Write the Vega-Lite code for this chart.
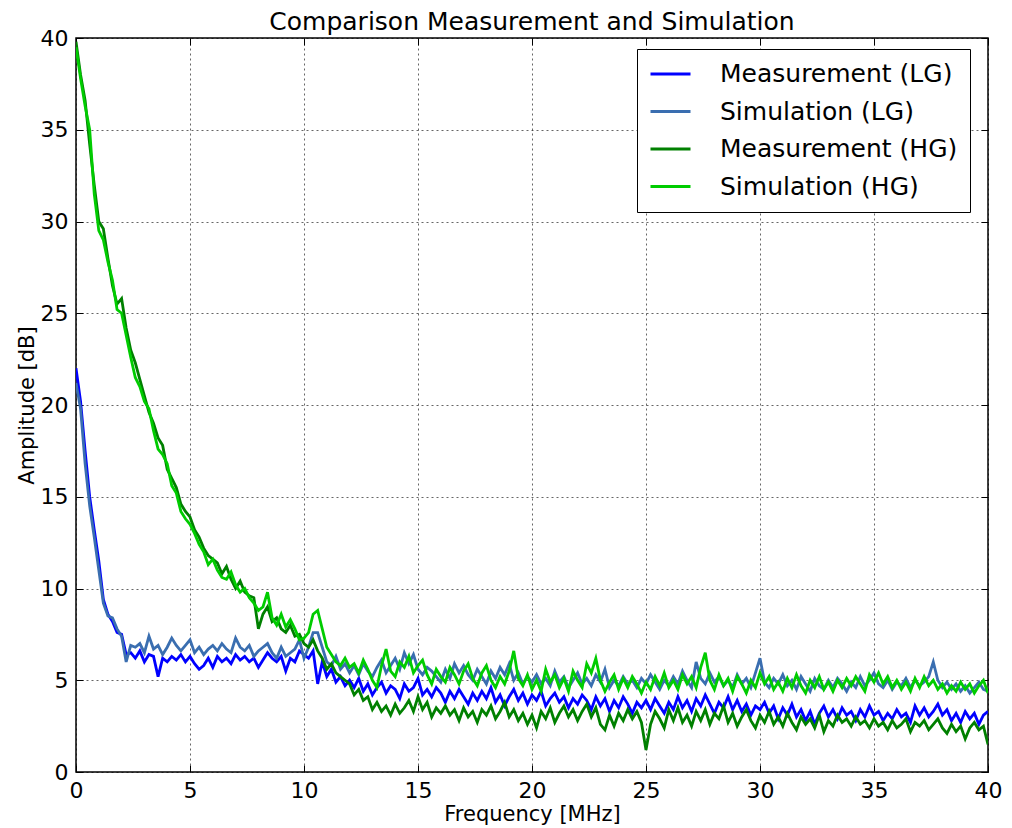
{
  "$schema": "https://vega.github.io/schema/vega-lite/v6.json",
  "width": 912,
  "height": 734,
  "autosize": {"type": "none"},
  "padding": {"left": 76, "top": 38, "right": 24, "bottom": 56},
  "background": "white",
  "config": {
    "font": "DejaVu Sans",
    "view": {"stroke": "black", "strokeWidth": 1.5},
    "axis": {
      "domain": false,
      "gridColor": "#000000",
      "gridOpacity": 0.6,
      "gridDash": [2, 3],
      "gridWidth": 1,
      "tickColor": "#000000",
      "tickSize": -7,
      "tickWidth": 1,
      "labelFlush": false,
      "labelColor": "#000000",
      "labelFont": "DejaVu Sans",
      "labelFontSize": 22,
      "titleFont": "DejaVu Sans",
      "titleFontSize": 21,
      "titleFontWeight": "normal",
      "titleColor": "#000000"
    }
  },
  "title": {"text": "Comparison Measurement and Simulation", "fontSize": 25, "fontWeight": "normal", "font": "DejaVu Sans", "color": "#000000", "offset": -8},
  "data": {"values": [
    {"f":0,"ml":22.0,"sl":21.2,"mh":39.8,"sh":39.5},
    {"f":0.2,"ml":20.2,"sl":19.8,"mh":38.0,"sh":37.8},
    {"f":0.4,"ml":17.5,"sl":16.8,"mh":36.6,"sh":36.3},
    {"f":0.6,"ml":15.0,"sl":14.5,"mh":34.2,"sh":35.0},
    {"f":0.8,"ml":13.2,"sl":12.8,"mh":32.0,"sh":31.5},
    {"f":1.0,"ml":11.5,"sl":11.0,"mh":30.0,"sh":29.5},
    {"f":1.2,"ml":9.4,"sl":9.2,"mh":29.6,"sh":29.0},
    {"f":1.4,"ml":8.6,"sl":8.5,"mh":28.0,"sh":27.8},
    {"f":1.6,"ml":8.2,"sl":8.4,"mh":26.5,"sh":26.8},
    {"f":1.8,"ml":7.6,"sl":7.8,"mh":25.5,"sh":25.2},
    {"f":2.0,"ml":7.5,"sl":7.4,"mh":25.8,"sh":25.0},
    {"f":2.2,"ml":6.4,"sl":6.0,"mh":24.2,"sh":23.8},
    {"f":2.4,"ml":6.5,"sl":6.9,"mh":23.0,"sh":22.6},
    {"f":2.6,"ml":6.2,"sl":6.8,"mh":22.3,"sh":21.5},
    {"f":2.8,"ml":6.6,"sl":7.0,"mh":21.4,"sh":21.0},
    {"f":3.0,"ml":6.0,"sl":6.5,"mh":20.5,"sh":20.2},
    {"f":3.2,"ml":6.4,"sl":7.4,"mh":19.6,"sh":19.8},
    {"f":3.4,"ml":6.3,"sl":6.7,"mh":19.0,"sh":18.6},
    {"f":3.6,"ml":5.2,"sl":6.9,"mh":18.2,"sh":17.6},
    {"f":3.8,"ml":6.2,"sl":6.4,"mh":17.8,"sh":17.3},
    {"f":4.0,"ml":6.0,"sl":6.8,"mh":16.5,"sh":16.8},
    {"f":4.2,"ml":6.3,"sl":7.3,"mh":16.0,"sh":15.6},
    {"f":4.4,"ml":6.1,"sl":6.9,"mh":15.5,"sh":15.2},
    {"f":4.6,"ml":6.4,"sl":6.6,"mh":14.6,"sh":14.2},
    {"f":4.8,"ml":6.0,"sl":6.9,"mh":14.2,"sh":13.8},
    {"f":5.0,"ml":6.3,"sl":7.2,"mh":13.9,"sh":13.5},
    {"f":5.2,"ml":5.9,"sl":6.5,"mh":13.2,"sh":13.0},
    {"f":5.4,"ml":5.6,"sl":6.8,"mh":12.8,"sh":12.4},
    {"f":5.6,"ml":5.8,"sl":6.4,"mh":12.2,"sh":12.0},
    {"f":5.8,"ml":6.2,"sl":6.7,"mh":11.8,"sh":11.3},
    {"f":6.0,"ml":5.7,"sl":6.9,"mh":11.6,"sh":11.6},
    {"f":6.2,"ml":6.3,"sl":6.6,"mh":11.4,"sh":11.0},
    {"f":6.4,"ml":6.0,"sl":7.0,"mh":10.8,"sh":10.6},
    {"f":6.6,"ml":6.2,"sl":6.7,"mh":11.2,"sh":10.5},
    {"f":6.8,"ml":5.9,"sl":6.5,"mh":10.5,"sh":10.9},
    {"f":7.0,"ml":6.4,"sl":7.3,"mh":10.0,"sh":10.2},
    {"f":7.2,"ml":6.1,"sl":6.8,"mh":10.4,"sh":9.8},
    {"f":7.4,"ml":6.3,"sl":6.6,"mh":9.8,"sh":10.0},
    {"f":7.6,"ml":6.0,"sl":6.9,"mh":9.6,"sh":9.5},
    {"f":7.8,"ml":6.2,"sl":6.3,"mh":9.5,"sh":9.2},
    {"f":8.0,"ml":5.7,"sl":6.6,"mh":7.8,"sh":8.8},
    {"f":8.2,"ml":6.1,"sl":6.8,"mh":8.6,"sh":9.0},
    {"f":8.4,"ml":6.5,"sl":7.0,"mh":9.0,"sh":9.8},
    {"f":8.6,"ml":6.2,"sl":6.5,"mh":8.2,"sh":8.4},
    {"f":8.8,"ml":6.0,"sl":6.2,"mh":8.4,"sh":8.0},
    {"f":9.0,"ml":6.3,"sl":6.8,"mh":7.8,"sh":8.6},
    {"f":9.2,"ml":5.5,"sl":6.3,"mh":7.6,"sh":7.9},
    {"f":9.4,"ml":6.2,"sl":6.5,"mh":8.0,"sh":8.3},
    {"f":9.6,"ml":6.0,"sl":6.7,"mh":7.4,"sh":7.8},
    {"f":9.8,"ml":6.6,"sl":7.2,"mh":7.5,"sh":7.2},
    {"f":10.0,"ml":6.4,"sl":6.2,"mh":7.0,"sh":7.3},
    {"f":10.2,"ml":6.2,"sl":6.8,"mh":6.8,"sh":7.6},
    {"f":10.4,"ml":6.6,"sl":7.6,"mh":7.2,"sh":8.6},
    {"f":10.6,"ml":4.8,"sl":7.6,"mh":6.6,"sh":8.8},
    {"f":10.8,"ml":6.0,"sl":6.8,"mh":6.2,"sh":7.8},
    {"f":11.0,"ml":5.2,"sl":6.0,"mh":5.6,"sh":6.8},
    {"f":11.2,"ml":5.6,"sl":5.8,"mh":5.9,"sh":6.4},
    {"f":11.4,"ml":4.9,"sl":6.3,"mh":5.4,"sh":6.0},
    {"f":11.6,"ml":5.2,"sl":5.6,"mh":5.2,"sh":5.8},
    {"f":11.8,"ml":4.7,"sl":5.9,"mh":5.0,"sh":6.2},
    {"f":12.0,"ml":5.0,"sl":5.4,"mh":4.8,"sh":5.7},
    {"f":12.2,"ml":4.6,"sl":5.8,"mh":4.2,"sh":5.9},
    {"f":12.4,"ml":5.1,"sl":5.3,"mh":4.5,"sh":5.4},
    {"f":12.6,"ml":4.4,"sl":5.9,"mh":3.9,"sh":6.1},
    {"f":12.8,"ml":4.8,"sl":5.5,"mh":4.1,"sh":5.6},
    {"f":13.0,"ml":4.2,"sl":5.2,"mh":3.4,"sh":5.0},
    {"f":13.2,"ml":4.6,"sl":5.7,"mh":3.8,"sh":4.6},
    {"f":13.4,"ml":4.9,"sl":6.1,"mh":3.3,"sh":5.8},
    {"f":13.6,"ml":4.3,"sl":5.4,"mh":3.6,"sh":6.7},
    {"f":13.8,"ml":4.7,"sl":5.8,"mh":3.1,"sh":5.5},
    {"f":14.0,"ml":4.5,"sl":6.2,"mh":3.7,"sh":5.2},
    {"f":14.2,"ml":4.0,"sl":5.6,"mh":3.2,"sh":6.0},
    {"f":14.4,"ml":4.8,"sl":6.5,"mh":3.5,"sh":5.7},
    {"f":14.6,"ml":4.4,"sl":5.9,"mh":3.9,"sh":6.3},
    {"f":14.8,"ml":4.6,"sl":6.4,"mh":3.3,"sh":5.4},
    {"f":15.0,"ml":5.1,"sl":5.6,"mh":4.1,"sh":5.8},
    {"f":15.2,"ml":4.2,"sl":5.3,"mh":3.4,"sh":6.1},
    {"f":15.4,"ml":4.5,"sl":5.7,"mh":3.8,"sh":5.3},
    {"f":15.6,"ml":4.1,"sl":5.5,"mh":3.0,"sh":4.8},
    {"f":15.8,"ml":4.6,"sl":5.2,"mh":3.5,"sh":5.6},
    {"f":16.0,"ml":4.3,"sl":4.9,"mh":3.2,"sh":5.2},
    {"f":16.2,"ml":3.8,"sl":5.6,"mh":3.6,"sh":4.9},
    {"f":16.4,"ml":4.4,"sl":5.1,"mh":3.1,"sh":5.7},
    {"f":16.6,"ml":4.0,"sl":5.9,"mh":3.4,"sh":5.3},
    {"f":16.8,"ml":4.5,"sl":5.4,"mh":2.8,"sh":4.8},
    {"f":17.0,"ml":4.1,"sl":5.8,"mh":3.5,"sh":5.5},
    {"f":17.2,"ml":3.7,"sl":5.3,"mh":3.0,"sh":5.9},
    {"f":17.4,"ml":4.3,"sl":5.0,"mh":3.3,"sh":5.1},
    {"f":17.6,"ml":3.9,"sl":5.6,"mh":2.7,"sh":4.7},
    {"f":17.8,"ml":4.4,"sl":5.2,"mh":3.4,"sh":5.4},
    {"f":18.0,"ml":4.0,"sl":4.8,"mh":3.1,"sh":5.8},
    {"f":18.2,"ml":4.6,"sl":5.5,"mh":3.6,"sh":5.0},
    {"f":18.4,"ml":3.8,"sl":5.1,"mh":2.9,"sh":4.6},
    {"f":18.6,"ml":4.2,"sl":5.7,"mh":3.3,"sh":5.2},
    {"f":18.8,"ml":3.6,"sl":5.3,"mh":3.8,"sh":4.8},
    {"f":19.0,"ml":4.1,"sl":5.9,"mh":3.0,"sh":5.5},
    {"f":19.2,"ml":4.5,"sl":5.0,"mh":3.4,"sh":6.6},
    {"f":19.4,"ml":3.9,"sl":5.4,"mh":2.8,"sh":5.1},
    {"f":19.6,"ml":4.3,"sl":4.8,"mh":3.2,"sh":4.7},
    {"f":19.8,"ml":3.7,"sl":5.2,"mh":2.6,"sh":5.3},
    {"f":20.0,"ml":4.2,"sl":4.9,"mh":3.1,"sh":4.5},
    {"f":20.2,"ml":3.9,"sl":5.3,"mh":2.4,"sh":5.0},
    {"f":20.4,"ml":4.4,"sl":4.8,"mh":3.3,"sh":4.4},
    {"f":20.6,"ml":3.6,"sl":5.1,"mh":2.9,"sh":5.6},
    {"f":20.8,"ml":4.0,"sl":4.7,"mh":3.5,"sh":4.9},
    {"f":21.0,"ml":4.3,"sl":5.5,"mh":2.7,"sh":5.3},
    {"f":21.2,"ml":3.8,"sl":4.9,"mh":3.2,"sh":4.6},
    {"f":21.4,"ml":4.1,"sl":5.2,"mh":3.6,"sh":5.1},
    {"f":21.6,"ml":3.5,"sl":4.6,"mh":3.0,"sh":4.4},
    {"f":21.8,"ml":4.0,"sl":5.0,"mh":3.4,"sh":5.5},
    {"f":22.0,"ml":3.7,"sl":5.4,"mh":2.8,"sh":5.0},
    {"f":22.2,"ml":4.2,"sl":4.8,"mh":3.3,"sh":4.6},
    {"f":22.4,"ml":3.9,"sl":5.1,"mh":3.7,"sh":5.9},
    {"f":22.6,"ml":3.4,"sl":4.7,"mh":3.0,"sh":5.4},
    {"f":22.8,"ml":4.1,"sl":5.3,"mh":3.5,"sh":6.2},
    {"f":23.0,"ml":3.6,"sl":4.9,"mh":2.6,"sh":5.0},
    {"f":23.2,"ml":4.0,"sl":5.6,"mh":2.3,"sh":4.4},
    {"f":23.4,"ml":3.3,"sl":4.6,"mh":3.1,"sh":4.9},
    {"f":23.6,"ml":3.9,"sl":5.0,"mh":2.5,"sh":5.3},
    {"f":23.8,"ml":3.5,"sl":4.7,"mh":3.2,"sh":4.5},
    {"f":24.0,"ml":4.1,"sl":5.2,"mh":2.8,"sh":5.1},
    {"f":24.2,"ml":3.7,"sl":4.8,"mh":3.4,"sh":4.6},
    {"f":24.4,"ml":3.2,"sl":5.0,"mh":2.9,"sh":5.2},
    {"f":24.6,"ml":3.8,"sl":4.6,"mh":3.3,"sh":4.8},
    {"f":24.8,"ml":3.5,"sl":5.1,"mh":2.7,"sh":4.3},
    {"f":25.0,"ml":3.9,"sl":4.8,"mh":1.2,"sh":4.9},
    {"f":25.2,"ml":3.4,"sl":5.3,"mh":2.6,"sh":4.5},
    {"f":25.4,"ml":4.0,"sl":4.9,"mh":3.3,"sh":5.2},
    {"f":25.6,"ml":3.6,"sl":4.5,"mh":2.9,"sh":4.7},
    {"f":25.8,"ml":3.2,"sl":5.0,"mh":2.4,"sh":5.4},
    {"f":26.0,"ml":3.8,"sl":4.7,"mh":3.4,"sh":4.6},
    {"f":26.2,"ml":3.4,"sl":5.2,"mh":2.8,"sh":5.0},
    {"f":26.4,"ml":4.1,"sl":4.8,"mh":3.5,"sh":4.5},
    {"f":26.6,"ml":3.5,"sl":5.5,"mh":2.7,"sh":5.3},
    {"f":26.8,"ml":3.9,"sl":5.0,"mh":3.1,"sh":4.8},
    {"f":27.0,"ml":3.3,"sl":4.6,"mh":2.5,"sh":5.2},
    {"f":27.2,"ml":4.0,"sl":6.0,"mh":3.3,"sh":4.6},
    {"f":27.4,"ml":3.6,"sl":5.1,"mh":2.8,"sh":5.7},
    {"f":27.6,"ml":4.2,"sl":4.8,"mh":3.4,"sh":6.5},
    {"f":27.8,"ml":3.7,"sl":5.4,"mh":2.6,"sh":5.0},
    {"f":28.0,"ml":3.2,"sl":4.9,"mh":3.2,"sh":4.5},
    {"f":28.2,"ml":3.8,"sl":5.2,"mh":2.9,"sh":5.3},
    {"f":28.4,"ml":3.5,"sl":4.7,"mh":3.6,"sh":4.7},
    {"f":28.6,"ml":4.1,"sl":5.0,"mh":2.7,"sh":5.1},
    {"f":28.8,"ml":3.4,"sl":4.6,"mh":3.2,"sh":4.4},
    {"f":29.0,"ml":3.9,"sl":5.3,"mh":2.5,"sh":5.2},
    {"f":29.2,"ml":3.3,"sl":4.8,"mh":3.0,"sh":4.8},
    {"f":29.4,"ml":3.7,"sl":5.1,"mh":3.4,"sh":4.3},
    {"f":29.6,"ml":3.1,"sl":4.6,"mh":2.8,"sh":5.0},
    {"f":29.8,"ml":3.6,"sl":5.4,"mh":2.4,"sh":4.6},
    {"f":30.0,"ml":3.4,"sl":6.2,"mh":3.1,"sh":5.4},
    {"f":30.2,"ml":3.8,"sl":4.9,"mh":2.7,"sh":4.8},
    {"f":30.4,"ml":3.2,"sl":4.6,"mh":3.3,"sh":5.2},
    {"f":30.6,"ml":3.6,"sl":5.1,"mh":2.6,"sh":4.5},
    {"f":30.8,"ml":2.9,"sl":4.8,"mh":3.0,"sh":4.9},
    {"f":31.0,"ml":3.5,"sl":5.3,"mh":2.5,"sh":4.4},
    {"f":31.2,"ml":3.1,"sl":4.7,"mh":3.2,"sh":5.1},
    {"f":31.4,"ml":3.7,"sl":5.0,"mh":2.7,"sh":4.6},
    {"f":31.6,"ml":3.0,"sl":4.5,"mh":2.3,"sh":5.3},
    {"f":31.8,"ml":3.4,"sl":5.2,"mh":3.0,"sh":4.7},
    {"f":32.0,"ml":2.8,"sl":4.8,"mh":2.6,"sh":4.3},
    {"f":32.2,"ml":3.3,"sl":4.4,"mh":2.9,"sh":5.0},
    {"f":32.4,"ml":2.6,"sl":5.1,"mh":2.4,"sh":4.6},
    {"f":32.6,"ml":3.2,"sl":4.7,"mh":3.1,"sh":5.2},
    {"f":32.8,"ml":3.6,"sl":4.5,"mh":2.2,"sh":4.5},
    {"f":33.0,"ml":3.0,"sl":5.0,"mh":2.8,"sh":4.9},
    {"f":33.2,"ml":3.4,"sl":4.6,"mh":2.5,"sh":4.4},
    {"f":33.4,"ml":2.9,"sl":5.1,"mh":3.1,"sh":5.0},
    {"f":33.6,"ml":3.5,"sl":4.8,"mh":2.7,"sh":4.6},
    {"f":33.8,"ml":3.1,"sl":4.4,"mh":2.9,"sh":5.1},
    {"f":34.0,"ml":3.3,"sl":4.9,"mh":2.5,"sh":4.7},
    {"f":34.2,"ml":2.8,"sl":4.6,"mh":3.0,"sh":5.2},
    {"f":34.4,"ml":3.4,"sl":5.2,"mh":2.6,"sh":4.8},
    {"f":34.6,"ml":3.0,"sl":4.7,"mh":2.8,"sh":4.4},
    {"f":34.8,"ml":3.6,"sl":5.0,"mh":2.4,"sh":5.3},
    {"f":35.0,"ml":3.1,"sl":5.4,"mh":2.9,"sh":4.9},
    {"f":35.2,"ml":3.3,"sl":4.8,"mh":2.5,"sh":5.4},
    {"f":35.4,"ml":2.8,"sl":4.6,"mh":2.7,"sh":4.8},
    {"f":35.6,"ml":3.2,"sl":5.0,"mh":2.3,"sh":5.2},
    {"f":35.8,"ml":2.9,"sl":4.5,"mh":2.8,"sh":4.6},
    {"f":36.0,"ml":3.4,"sl":4.9,"mh":2.4,"sh":5.0},
    {"f":36.2,"ml":3.0,"sl":4.7,"mh":2.6,"sh":4.5},
    {"f":36.4,"ml":3.2,"sl":5.1,"mh":2.9,"sh":4.9},
    {"f":36.6,"ml":2.7,"sl":4.6,"mh":2.2,"sh":4.4},
    {"f":36.8,"ml":3.6,"sl":5.0,"mh":2.7,"sh":5.1},
    {"f":37.0,"ml":3.1,"sl":4.7,"mh":2.5,"sh":4.6},
    {"f":37.2,"ml":3.5,"sl":4.9,"mh":2.8,"sh":5.2},
    {"f":37.4,"ml":3.0,"sl":5.2,"mh":2.3,"sh":4.7},
    {"f":37.6,"ml":3.3,"sl":6.0,"mh":2.6,"sh":5.0},
    {"f":37.8,"ml":3.7,"sl":5.0,"mh":2.9,"sh":4.5},
    {"f":38.0,"ml":3.1,"sl":4.6,"mh":2.4,"sh":4.8},
    {"f":38.2,"ml":3.4,"sl":4.9,"mh":2.1,"sh":4.3},
    {"f":38.4,"ml":2.8,"sl":4.5,"mh":2.6,"sh":4.7},
    {"f":38.6,"ml":3.2,"sl":4.8,"mh":2.2,"sh":4.4},
    {"f":38.8,"ml":2.7,"sl":4.4,"mh":2.5,"sh":4.9},
    {"f":39.0,"ml":3.3,"sl":4.7,"mh":1.8,"sh":4.5},
    {"f":39.2,"ml":2.9,"sl":4.3,"mh":2.4,"sh":4.8},
    {"f":39.4,"ml":3.2,"sl":4.6,"mh":2.7,"sh":4.3},
    {"f":39.6,"ml":2.6,"sl":4.9,"mh":2.3,"sh":4.7},
    {"f":39.8,"ml":3.1,"sl":4.5,"mh":2.5,"sh":5.0},
    {"f":40.0,"ml":3.3,"sl":4.4,"mh":1.5,"sh":4.3}
  ]},
  "transform": [{"fold": ["ml", "sl", "mh", "sh"], "as": ["s", "a"]}],
  "layer": [
    {
      "mark": {"type": "line", "strokeWidth": 2.8, "clip": true, "interpolate": "linear"},
      "encoding": {
        "x": {"field": "f", "type": "quantitative", "scale": {"domain": [0, 40], "nice": false},
          "axis": {"title": "Frequency [MHz]", "values": [0,5,10,15,20,25,30,35,40], "labelPadding": 15, "titlePadding": 2, "grid": true}},
        "y": {"field": "a", "type": "quantitative", "scale": {"domain": [0, 40], "nice": false},
          "axis": {"title": "Amplitude [dB]", "values": [0,5,10,15,20,25,30,35,40], "labelPadding": 15, "titlePadding": 3, "grid": true}},
        "color": {"field": "s", "type": "nominal",
          "scale": {"domain": ["ml", "sl", "mh", "sh"], "range": ["#0000ff", "#3a6eb0", "#008000", "#00cc00"]},
          "legend": {
            "title": null,
            "orient": "none",
            "legendX": 561,
            "legendY": 11,
            "labelExpr": "datum.value == 'ml' ? 'Measurement (LG)' : datum.value == 'sl' ? 'Simulation (LG)' : datum.value == 'mh' ? 'Measurement (HG)' : 'Simulation (HG)'",
            "symbolType": "stroke",
            "symbolSize": 1600,
            "symbolStrokeWidth": 2.8,
            "labelFontSize": 25,
            "labelFont": "DejaVu Sans",
            "labelColor": "#000000",
            "labelOffset": 28,
            "padding": 12,
            "rowPadding": 11.5,
            "clipHeight": 26,
            "strokeColor": "#000000",
            "fillColor": "#ffffff",
            "labelLimit": 400
          }
        }
      }
    },
    {
      "mark": {"type": "line", "opacity": 0, "clip": true},
      "encoding": {
        "x": {"field": "f", "type": "quantitative", "scale": {"domain": [0, 40], "nice": false},
          "axis": {"orient": "top", "title": null, "labels": false, "grid": false, "values": [0,5,10,15,20,25,30,35,40]}},
        "y": {"field": "a", "type": "quantitative", "scale": {"domain": [0, 40], "nice": false},
          "axis": {"orient": "right", "title": null, "labels": false, "grid": false, "values": [0,5,10,15,20,25,30,35,40]}},
        "detail": {"field": "s"}
      }
    }
  ],
  "resolve": {"scale": {"x": "independent", "y": "independent"}}
}
